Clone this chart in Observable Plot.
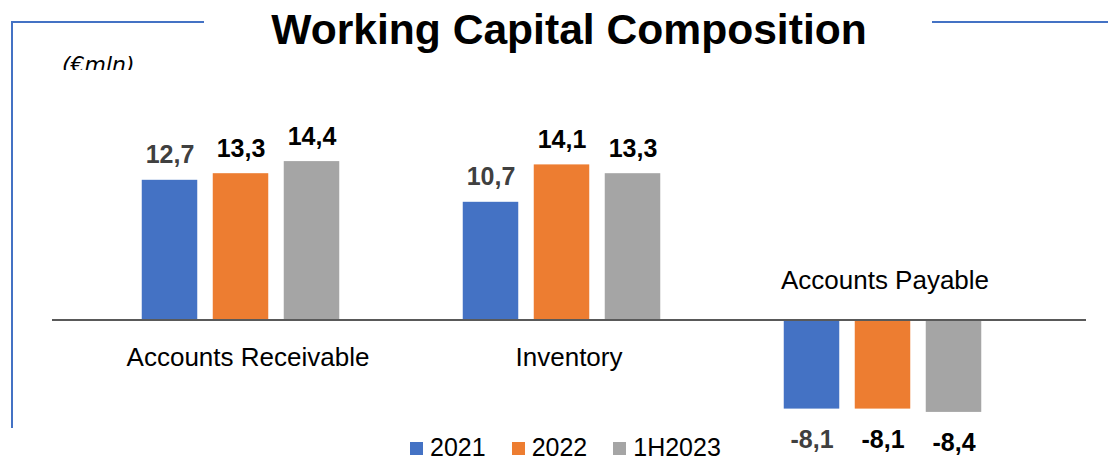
<!DOCTYPE html>
<html><head><meta charset="utf-8">
<script src="https://cdn.jsdelivr.net/npm/d3@7"></script>
<script src="https://cdn.jsdelivr.net/npm/@observablehq/plot@0.6"></script>
<style>
body{margin:0;background:#fff;}
#wrap{position:relative;width:1108px;height:460px;overflow:hidden;font-family:"Liberation Sans",Arial,sans-serif;background:#fff;}
#wrap svg{position:absolute;left:0;top:0;}
.deco{position:absolute;background:#4472C4;}
#title{position:absolute;top:8px;left:569px;transform:translateX(-50%);font-size:42.6px;line-height:42px;font-weight:bold;color:#000;white-space:nowrap;}
#unit{position:absolute;top:54px;left:62px;height:16px;overflow:hidden;font-family:"DejaVu Sans",sans-serif;font-style:italic;font-size:22px;line-height:22px;color:#000;white-space:nowrap;}
#legend{position:absolute;top:435px;left:410px;display:flex;align-items:center;font-size:25px;line-height:25px;color:#000;white-space:nowrap;}
#legend .item{display:flex;align-items:center;margin-right:26px;}
#legend .sw{width:13px;height:13px;margin-right:7px;margin-top:2px;}
</style></head><body><div id="wrap"></div>
<script>
const categories = ["Accounts Receivable", "Inventory", "Accounts Payable"];
const series = ["2021", "2022", "1H2023"];
const values2021 = [12.7, 10.7, -8.1];
const values2022 = [13.3, 14.1, -8.1];
const values1H2023 = [14.4, 13.3, -8.4];
const seriesColors = ["#4472C4", "#ED7D31", "#A5A5A5"];
const labelColors = ["#404040", "#000000", "#000000"];
const titleText = "Working Capital Composition";
const unitText = "(€mln)";

const seriesValues = [values2021, values2022, values1H2023];
const rows = series.flatMap((s, i) => categories.map((c, j) => ({category: c, series: s, value: seriesValues[i][j]})));
const catRows = categories.map((c, j) => ({category: c, neg: values2021[j] < 0}));

const half = 160.75, barHalf = 28;
const offsets = [-71, 0, 71];
const fmt = v => d3.format(".1f")(v).replace(".", ",").replace("\u2212", "-");

const marks = [];
series.forEach((s, i) => {
  const data = rows.filter(d => d.series === s);
  marks.push(Plot.barY(data, {x: "category", y: "value", fill: seriesColors[i],
    insetLeft: half + offsets[i] - barHalf, insetRight: half - offsets[i] - barHalf}));
});
series.forEach((s, i) => {
  const pos = rows.filter(d => d.series === s && d.value >= 0);
  const neg = rows.filter(d => d.series === s && d.value < 0);
  marks.push(Plot.text(pos, {x: "category", y: "value", text: d => fmt(d.value), dx: offsets[i], dy: -17,
    lineAnchor: "bottom", fill: labelColors[i], fontSize: 25, fontWeight: "bold"}));
  marks.push(Plot.text(neg, {x: "category", y: "value", text: d => fmt(d.value), dx: offsets[i], dy: 21,
    lineAnchor: "top", fill: labelColors[i], fontSize: 25, fontWeight: "bold"}));
});
marks.push(Plot.text(catRows.filter(d => !d.neg), {x: "category", y: () => 0, text: "category", dx: 7, dy: 28,
  lineAnchor: "top", fill: "#000", fontSize: 26}));
marks.push(Plot.text(catRows.filter(d => d.neg), {x: "category", y: () => 0, text: "category", dx: 2, dy: -31,
  lineAnchor: "bottom", fill: "#000", fontSize: 26}));
marks.push(Plot.ruleY([0], {stroke: "#595959", strokeWidth: 2}));

const chart = Plot.plot({
  width: 1108, height: 460,
  marginLeft: 52, marginRight: 22, marginTop: 0, marginBottom: 0,
  x: {type: "band", domain: categories, range: [79.25, 1043.75], padding: 0, axis: null},
  y: {domain: [-10, 20], range: [429.5, 99.5], axis: null},
  style: {fontFamily: "'Liberation Sans', Arial, sans-serif", background: "transparent", overflow: "visible"},
  marks
});

const wrap = document.getElementById("wrap");
wrap.appendChild(chart);

function deco(l, t, w, h) {
  const d = document.createElement("div");
  d.className = "deco";
  Object.assign(d.style, {left: l + "px", top: t + "px", width: w + "px", height: h + "px"});
  wrap.appendChild(d);
}
deco(11, 21, 193, 2);
deco(11, 21, 2, 407);
deco(932, 21, 176, 2);

const title = document.createElement("div");
title.id = "title"; title.textContent = titleText; wrap.appendChild(title);
const unit = document.createElement("div");
unit.id = "unit"; unit.textContent = unitText; wrap.appendChild(unit);

const legend = document.createElement("div");
legend.id = "legend";
series.forEach((s, i) => {
  const it = document.createElement("div"); it.className = "item";
  const sw = document.createElement("div"); sw.className = "sw"; sw.style.background = seriesColors[i];
  const tx = document.createElement("span"); tx.textContent = s;
  it.appendChild(sw); it.appendChild(tx); legend.appendChild(it);
});
wrap.appendChild(legend);
</script></body></html>
